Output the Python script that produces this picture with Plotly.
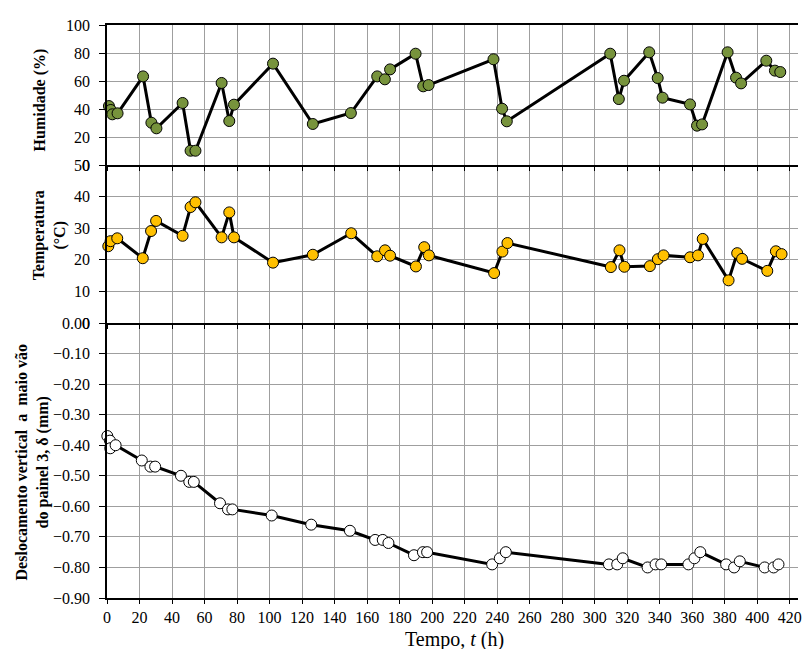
import plotly.graph_objects as go

# ---- data ----
t_hum = [1.2, 2.3, 3.3, 6.5, 22.2, 27.3, 30.4, 46.5, 51.4, 54.4, 70.5, 75.2, 78.1, 102.1,
         126.6, 150.0, 166.2, 170.9, 174.1, 189.8, 194.5, 197.8, 237.7, 243.0, 245.9,
         309.5, 314.8, 318.0, 333.5, 338.7, 341.7, 358.6, 362.9, 366.0, 381.7, 386.9,
         390.0, 405.5, 410.8, 414.1]
humidade = [42.1, 39.3, 36.2, 36.9, 63.3, 30.2, 26.2, 44.3, 10.2, 10.2, 58.6, 31.4, 43.1, 72.4,
            29.3, 37.1, 63.3, 61.2, 68.3, 79.5, 56.2, 57.1, 75.5, 40.2, 31.2,
            79.5, 47.1, 60.2, 80.5, 62.1, 48.1, 43.3, 28.1, 29.0, 80.5, 62.4,
            58.3, 74.5, 67.4, 66.4]

t_temp = [0.8, 2.2, 6.3, 22.0, 27.1, 30.2, 46.5, 51.4, 54.4, 70.5, 75.2, 78.1, 102.1, 126.6,
          150.2, 166.2, 171.0, 174.1, 190.0, 195.1, 198.0, 238.1, 243.2, 246.3, 309.9,
          315.2, 318.2, 333.9, 338.8, 342.3, 358.6, 363.5, 366.4, 382.3, 387.6, 390.6,
          406.1, 411.4, 414.9]
temperatura = [24.3, 25.9, 26.8, 20.5, 29.1, 32.3, 27.6, 36.7, 38.2, 27.1, 35.0, 27.1, 19.1, 21.6,
               28.4, 21.1, 23.0, 21.3, 17.9, 24.0, 21.4, 15.8, 22.6, 25.3, 17.7,
               23.0, 17.8, 18.0, 20.2, 21.4, 20.8, 21.4, 26.6, 13.5, 22.1, 20.3,
               16.5, 22.7, 21.8]

t_desl = [0.2, 1.8, 2.0, 5.3, 21.4, 26.7, 29.6, 45.5, 50.6, 53.4, 69.5, 74.4, 77.1, 101.3,
          125.6, 149.4, 164.9, 169.6, 173.1, 188.8, 194.3, 196.9, 236.9, 241.6, 245.3,
          308.7, 313.8, 317.2, 332.5, 337.4, 340.9, 357.6, 361.3, 364.9, 380.8, 385.7,
          389.2, 404.5, 410.0, 413.0]
deslocamento = [-0.37, -0.385, -0.41, -0.40, -0.45, -0.47, -0.47, -0.50, -0.52, -0.52, -0.59, -0.61,
                -0.61, -0.63, -0.66, -0.68, -0.71, -0.71, -0.72, -0.76, -0.75, -0.75, -0.79,
                -0.77, -0.75, -0.79, -0.79, -0.77, -0.80, -0.79, -0.79, -0.79, -0.77, -0.75,
                -0.79, -0.80, -0.78, -0.80, -0.80, -0.79]

x_ticks = list(range(0, 421, 20))
hum_ticks = [0, 20, 40, 60, 80, 100]
temp_ticks = [0, 10, 20, 30, 40, 50]
desl_ticks = [0.0, -0.1, -0.2, -0.3, -0.4, -0.5, -0.6, -0.7, -0.8, -0.9]

FONT = "Liberation Serif"
GRID = "#9f9f9f"

fig = go.Figure()

def add_series(x, y, color, xa, ya):
    fig.add_trace(go.Scatter(
        x=x, y=y, mode="lines+markers", xaxis=xa, yaxis=ya,
        line=dict(color="black", width=3),
        marker=dict(size=11, color=color, line=dict(color="black", width=1)),
        showlegend=False, cliponaxis=False))

add_series(t_hum, humidade, "#77933C", "x3", "y3")
add_series(t_temp, temperatura, "#FFC000", "x2", "y2")
add_series(t_desl, deslocamento, "white", "x", "y")

dom_b = [0, 275 / 573]
dom_m = [275 / 573, 433 / 573]
dom_t = [433 / 573, 1]

xcommon = dict(range=[0, 425], tickvals=x_ticks, showgrid=True, gridcolor=GRID, gridwidth=1.3,
               showline=True, linecolor="black", linewidth=1.5, zeroline=False,
               ticks="outside", ticklen=4, tickcolor="black", ticklabeloverflow="allow",
               tickfont=dict(family=FONT, size=16, color="black"))
ycommon = dict(showgrid=True, gridcolor=GRID, gridwidth=1.3, showline=True, linecolor="black",
               linewidth=1.5, zeroline=False, ticks="outside", ticklen=6, tickcolor="black",
               tickfont=dict(family=FONT, size=16, color="black"), ticklabelstandoff=6)

fig.update_layout(
    width=802, height=649,
    margin=dict(l=107, r=0, t=25, b=51),
    paper_bgcolor="white", plot_bgcolor="white",
    font=dict(family=FONT),
    xaxis=dict(**xcommon, anchor="y", domain=[0, 1]),
    xaxis2=dict(**xcommon, anchor="y2", domain=[0, 1], showticklabels=False, matches="x"),
    xaxis3=dict(**xcommon, anchor="y3", domain=[0, 1], showticklabels=False, matches="x",
                mirror=True),
    yaxis=dict(**ycommon, anchor="x", domain=dom_b, range=[-0.9, 0], tickvals=desl_ticks,
               tickformat=".2f"),
    yaxis2=dict(**ycommon, anchor="x2", domain=dom_m, range=[0, 50], tickvals=temp_ticks),
    yaxis3=dict(**ycommon, anchor="x3", domain=dom_t, range=[0, 100], tickvals=hum_ticks),
)

def px_x(p):
    return (p - 107) / 695

def px_y(p):
    return (598 - p) / 573

ann_font = dict(family=FONT, size=16, color="black")
fig.add_annotation(text="<b>Humidade (%)</b>", textangle=-90, xref="paper", yref="paper",
                   x=px_x(40), y=px_y(100), xanchor="center", yanchor="middle",
                   showarrow=False, font=ann_font)
fig.add_annotation(text="<b>Temperatura<br>(°C)</b>", textangle=-90, xref="paper", yref="paper",
                   x=px_x(49), y=px_y(235), xanchor="center", yanchor="middle",
                   showarrow=False, font=ann_font)
fig.add_annotation(text="<b>Deslocamento vertical\u00a0 a\u00a0 maio vão<br>do painel 3, δ (mm)</b>",
                   textangle=-90, xref="paper", yref="paper",
                   x=px_x(32), y=px_y(462), xanchor="center", yanchor="middle",
                   showarrow=False, font=ann_font)
fig.add_annotation(text="Tempo, <i>t</i> (h)", xref="paper", yref="paper",
                   x=px_x(457), y=px_y(639), xanchor="center", yanchor="middle",
                   showarrow=False, font=dict(family=FONT, size=20, color="black"))

fig.write_html("out.html")
